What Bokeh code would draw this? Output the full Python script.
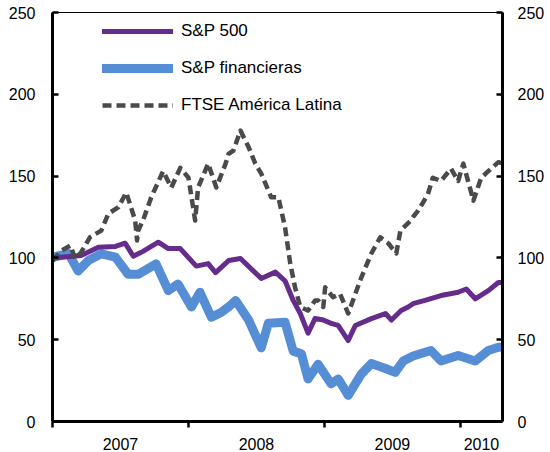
import pandas as pd
from bokeh.plotting import figure
from bokeh.models import (LinearAxis, FixedTicker, CustomJSTickFormatter, Range1d,
                          Legend, LegendItem, ColumnDataSource)
from bokeh.embed import file_html
from bokeh.resources import INLINE

# ---------------- data ----------------
sp500_dates = ["2007-01-02", "2007-03-19", "2007-05-04", "2007-06-19", "2007-07-15",
               "2007-08-06", "2007-08-19", "2007-09-01", "2007-10-12", "2007-11-08",
               "2007-12-10", "2008-01-22", "2008-02-23", "2008-03-14", "2008-04-10",
               "2008-04-18", "2008-05-20", "2008-07-15", "2008-08-22", "2008-09-17",
               "2008-10-09", "2008-10-28", "2008-11-18", "2008-12-07", "2008-12-29",
               "2009-01-19", "2009-02-07", "2009-03-06", "2009-03-25", "2009-05-07",
               "2009-06-14", "2009-06-30", "2009-07-26", "2009-08-14", "2009-08-27",
               "2009-09-28", "2009-11-10", "2009-12-26", "2010-01-17", "2010-02-10",
               "2010-03-17", "2010-04-13", "2010-04-23"]
sp500_vals = [100, 101.5, 106.5, 107, 109,
              101, 102.5, 104, 109.6, 105.7,
              105.7, 95, 96.5, 91, 96.6,
              98.4, 99.6, 87.4, 91.3, 86,
              74, 66, 54, 63, 62,
              60, 58.7, 49.5, 58.7, 62.9,
              66, 62, 67.8, 70, 72,
              74, 77, 79, 81, 75,
              80, 85, 85]

fin_dates = ["2007-01-02", "2007-02-13", "2007-03-11", "2007-04-07", "2007-05-12",
             "2007-06-19", "2007-07-23", "2007-08-19", "2007-10-06", "2007-11-08",
             "2007-12-04", "2008-01-09", "2008-02-01", "2008-03-03", "2008-03-30",
             "2008-04-18", "2008-05-07", "2008-06-11", "2008-07-15", "2008-08-03",
             "2008-09-17", "2008-10-09", "2008-10-31", "2008-11-18", "2008-12-15",
             "2009-01-19", "2009-02-07", "2009-03-06", "2009-04-10", "2009-05-07",
             "2009-06-14", "2009-07-10", "2009-08-01", "2009-08-27", "2009-10-14",
             "2009-11-10", "2009-12-26", "2010-02-10", "2010-03-17", "2010-04-13",
             "2010-04-23"]
fin_vals = [100.4, 102.6, 92, 98.4, 102.5,
            100.5, 90, 90, 96.4, 80,
            84, 70, 79, 63.7, 66.8,
            70, 74, 62, 45, 60,
            60.7, 43, 41.4, 26, 35,
            23, 26, 16, 29, 35.4,
            32.4, 30, 37, 40, 43.4,
            37, 40.3, 37, 43.4, 45.4,
            45.5]

ftse_dates = ["2007-01-02", "2007-01-25", "2007-02-18", "2007-03-03", "2007-03-19",
              "2007-04-12", "2007-05-12", "2007-05-31", "2007-06-27", "2007-07-18",
              "2007-08-11", "2007-08-16", "2007-08-19", "2007-09-01", "2007-09-23",
              "2007-10-25", "2007-11-16", "2007-12-10", "2008-01-01", "2008-01-19",
              "2008-01-27", "2008-02-23", "2008-03-16", "2008-04-10", "2008-04-18",
              "2008-05-01", "2008-05-20", "2008-06-11", "2008-06-29", "2008-07-15",
              "2008-08-11", "2008-08-30", "2008-09-17", "2008-10-01", "2008-10-14",
              "2008-10-28", "2008-11-18", "2008-12-07", "2008-12-15", "2008-12-29",
              "2009-01-03", "2009-01-24", "2009-02-12", "2009-03-06", "2009-03-25",
              "2009-04-10", "2009-05-07", "2009-05-31", "2009-06-22", "2009-07-13",
              "2009-07-24", "2009-08-22", "2009-08-27", "2009-09-10", "2009-10-06",
              "2009-10-19", "2009-11-10", "2009-12-07", "2009-12-26", "2010-01-09",
              "2010-02-05", "2010-02-26", "2010-03-17", "2010-04-13", "2010-04-23"]
ftse_vals = [98.4, 104.5, 107.6, 99.6, 103.5,
             112.7, 116.7, 127, 131, 140,
             122.9, 110.6, 116.7, 123, 137,
             153, 143, 155, 149, 122.9,
             143, 157.6, 143, 157.6, 163.6,
             165.6, 177.8, 167.7, 157.6, 151.5,
             137, 137, 118.8, 96.6, 82,
             70, 67.8, 74, 74, 70,
             82, 76, 78, 66, 78,
             88, 102.7, 112.6, 108.8, 102.7,
             116.7, 123, 125, 129, 139,
             149, 147, 154.6, 147, 157.6,
             135, 149, 153, 158.5, 158]

year_ticks = [2007, 2008, 2009, 2010]
x_start, x_end = 2007.0, 2010.31
y_ticks = [0, 50, 100, 150, 200, 250]

labels = ["S&P 500", "S&P financieras", "FTSE América Latina"]
colors = ["#652C8C", "#558ED5", "#4A4A4A"]


def frac_year(dates):
    d = pd.to_datetime(pd.Series(dates))
    days = d.dt.is_leap_year.map({True: 366.0, False: 365.0})
    return list(d.dt.year + (d.dt.dayofyear - 1) / days)


FONT = "Liberation Sans"

p = figure(width=550, height=452, output_backend="svg", toolbar_location=None,
           x_range=Range1d(x_start, x_end), y_range=Range1d(0, 250),
           min_border_left=52, min_border_right=48, min_border_top=12,
           min_border_bottom=31, y_axis_location="left")
p.grid.visible = False
p.outline_line_color = "black"
p.outline_line_width = 1.2
p.background_fill_color = "white"
p.border_fill_color = "white"

src_fin = ColumnDataSource(dict(x=frac_year(fin_dates), y=fin_vals))
src_sp = ColumnDataSource(dict(x=frac_year(sp500_dates), y=sp500_vals))
src_ft = ColumnDataSource(dict(x=frac_year(ftse_dates), y=ftse_vals))

r_fin = p.line("x", "y", source=src_fin, line_color=colors[1], line_width=9,
               line_join="round", line_cap="round")
r_sp = p.line("x", "y", source=src_sp, line_color=colors[0], line_width=5,
              line_join="round", line_cap="round")
r_ft = p.line("x", "y", source=src_ft, line_color=colors[2], line_width=4.5,
              line_dash="9 5", line_join="round")

# x axis: labels at mid-year, ticks at year boundaries
xa = p.xaxis[0]
xa.ticker = FixedTicker(ticks=[2007.5, 2008.5, 2009.5, (2010 + x_end) / 2],
                        minor_ticks=year_ticks)
xa.formatter = CustomJSTickFormatter(code="return String(Math.floor(tick));")
xa.major_tick_in = 0
xa.major_tick_out = 0
xa.minor_tick_in = 0
xa.minor_tick_out = 6
xa.minor_tick_line_width = 2.5
xa.minor_tick_line_color = "black"
xa.axis_line_width = 3
xa.axis_line_color = "black"
xa.major_label_standoff = 10
xa.major_label_text_font = FONT
xa.major_label_text_font_size = "16px"
xa.major_label_text_color = "black"

ya = p.yaxis[0]
ya.ticker = FixedTicker(ticks=y_ticks)
ya.major_tick_in = 6
ya.major_tick_out = 0
ya.minor_tick_in = 0
ya.minor_tick_out = 0
ya.major_tick_line_width = 2.5
ya.axis_line_width = 3
ya.axis_line_color = "black"
ya.major_label_standoff = 17
ya.major_label_text_font = FONT
ya.major_label_text_font_size = "16px"
ya.major_label_text_color = "black"

ra = LinearAxis(ticker=FixedTicker(ticks=y_ticks))
ra.major_tick_in = 6
ra.major_tick_out = 0
ra.minor_tick_in = 0
ra.minor_tick_out = 0
ra.major_tick_line_width = 2.5
ra.axis_line_width = 3
ra.axis_line_color = "black"
ra.major_label_standoff = 15
ra.major_label_text_font = FONT
ra.major_label_text_font_size = "16px"
ra.major_label_text_color = "black"
p.add_layout(ra, "right")

legend = Legend(items=[LegendItem(label=labels[0], renderers=[r_sp]),
                       LegendItem(label=labels[1], renderers=[r_fin]),
                       LegendItem(label=labels[2], renderers=[r_ft])],
                location=(50, 306))
legend.padding = 0
legend.margin = 0
legend.border_line_color = None
legend.background_fill_alpha = 0
legend.glyph_width = 71
legend.glyph_height = 20
legend.label_height = 20
legend.spacing = 17
legend.label_standoff = 8
legend.label_text_font = FONT
legend.label_text_font_size = "17px"
legend.label_text_color = "black"
legend.label_text_baseline = "middle"
p.add_layout(legend, "center")

open("out.html", "w").write(file_html(p, INLINE))
